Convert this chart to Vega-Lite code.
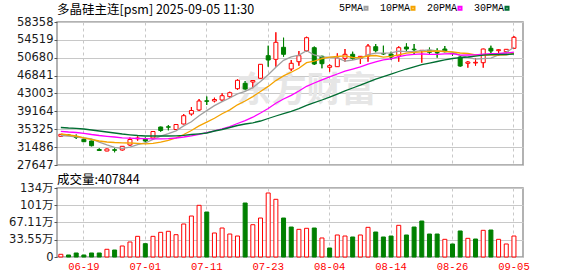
{
  "$schema": "https://vega.github.io/schema/vega-lite/v6.json",
  "background": "white",
  "autosize": {"type": "pad"},
  "padding": {"left": 0, "top": 2, "right": 4, "bottom": 0},
  "config": {
    "view": {"stroke": "#999999", "strokeWidth": 1.5},
    "axis": {"labelFont": "DejaVu Sans, Noto Sans CJK SC", "labelFontSize": 11.5, "labelColor": "#1a1a1a"},
    "axisY": {"labelOverlap": false, "labelFlush": false, "tickSize": 3, "tickColor": "#555555", "labelPadding": 1, "domain": false, "grid": true, "gridColor": "#c8c8c8", "minExtent": 56, "maxExtent": 56},
    "concat": {"spacing": 0}
  },
  "datasets": {
    "k": [
      {"d":"06-16","o":33810,"h":34304,"l":33767,"c":34240,"v":52500,"m5":33982,"m10":34304,"m20":34884,"m30":35700},
      {"d":"06-17","o":34089,"h":34197,"l":33918,"c":34046,"v":39000,"m5":33875,"m10":34089,"m20":34734,"m30":35593},
      {"d":"06-18","o":33767,"h":34197,"l":33230,"c":33553,"v":78000,"m5":33703,"m10":33875,"m20":34626,"m30":35528},
      {"d":"06-19","o":33166,"h":33338,"l":32586,"c":32650,"v":39000,"m5":33445,"m10":33488,"m20":34455,"m30":35378},
      {"d":"06-20","o":32801,"h":32865,"l":31663,"c":31791,"v":78000,"m5":33252,"m10":33123,"m20":34197,"m30":35163},
      {"d":"06-23","o":30975,"h":31233,"l":30653,"c":30761,"v":78000,"m5":32565,"m10":32801,"m20":33982,"m30":34948},
      {"d":"06-24","o":30653,"h":31190,"l":30610,"c":31083,"v":150000,"m5":31963,"m10":32586,"m20":33810,"m30":34734},
      {"d":"06-25","o":30932,"h":31233,"l":30374,"c":30804,"v":136000,"m5":31426,"m10":32479,"m20":33660,"m30":34519},
      {"d":"06-26","o":30868,"h":31727,"l":30761,"c":31663,"v":214000,"m5":31212,"m10":32414,"m20":33488,"m30":34304},
      {"d":"06-27","o":31942,"h":33553,"l":31727,"c":33123,"v":292000,"m5":31491,"m10":32371,"m20":33402,"m30":34133},
      {"d":"06-30","o":33273,"h":33810,"l":32865,"c":33445,"v":402000,"m5":32028,"m10":32285,"m20":33338,"m30":33982},
      {"d":"07-01","o":33230,"h":33553,"l":32522,"c":32801,"v":259000,"m5":32371,"m10":32167,"m20":33295,"m30":33875},
      {"d":"07-02","o":33445,"h":34948,"l":33381,"c":34841,"v":402000,"m5":33166,"m10":32296,"m20":33273,"m30":33875},
      {"d":"07-03","o":35807,"h":35872,"l":34798,"c":35056,"v":480000,"m5":33853,"m10":32543,"m20":33273,"m30":33875},
      {"d":"07-04","o":35850,"h":36237,"l":35099,"c":35765,"v":500000,"m5":34390,"m10":32930,"m20":33295,"m30":33875},
      {"d":"07-07","o":35271,"h":36387,"l":35163,"c":36344,"v":434000,"m5":34970,"m10":33488,"m20":33445,"m30":33918},
      {"d":"07-08","o":36452,"h":38599,"l":36387,"c":38234,"v":642000,"m5":36044,"m10":34197,"m20":33660,"m30":34025},
      {"d":"07-09","o":38599,"h":40103,"l":38277,"c":39351,"v":797000,"m5":36946,"m10":35056,"m20":33918,"m30":34197},
      {"d":"07-10","o":39458,"h":41821,"l":39244,"c":41391,"v":1005000,"m5":38213,"m10":36044,"m20":34240,"m30":34347},
      {"d":"07-11","o":41434,"h":42358,"l":40532,"c":41327,"v":875000,"m5":39330,"m10":36860,"m20":34605,"m30":34519},
      {"d":"07-14","o":41391,"h":42100,"l":41112,"c":41713,"v":467000,"m5":40403,"m10":37676,"m20":34991,"m30":34948},
      {"d":"07-15","o":41606,"h":43045,"l":41241,"c":42530,"v":564000,"m5":41262,"m10":38664,"m20":35421,"m30":35271},
      {"d":"07-16","o":42315,"h":43389,"l":42100,"c":43174,"v":447000,"m5":42036,"m10":39480,"m20":35893,"m30":35700},
      {"d":"07-17","o":44033,"h":46052,"l":43754,"c":45837,"v":408000,"m5":42916,"m10":40575,"m20":36559,"m30":36130},
      {"d":"07-18","o":45193,"h":45686,"l":43689,"c":43968,"v":1050000,"m5":43453,"m10":41391,"m20":37161,"m30":36452},
      {"d":"07-21","o":45472,"h":45901,"l":44119,"c":45794,"v":628000,"m5":44269,"m10":42336,"m20":37912,"m30":36710},
      {"d":"07-22","o":46266,"h":49337,"l":46223,"c":49273,"v":758000,"m5":45601,"m10":43431,"m20":38814,"m30":37096},
      {"d":"07-23","o":51120,"h":53268,"l":48758,"c":50196,"v":1245000,"m5":47018,"m10":44527,"m20":39780,"m30":37633},
      {"d":"07-24","o":50347,"h":56145,"l":48758,"c":53998,"v":1122000,"m5":48650,"m10":45772,"m20":40897,"m30":38170},
      {"d":"07-25","o":52924,"h":54986,"l":50905,"c":51421,"v":758000,"m5":50132,"m10":46782,"m20":41821,"m30":38664},
      {"d":"07-28","o":48264,"h":50196,"l":47834,"c":49488,"v":583000,"m5":50884,"m10":47576,"m20":42615,"m30":39179},
      {"d":"07-29","o":49831,"h":52129,"l":48972,"c":51120,"v":538000,"m5":51249,"m10":48435,"m20":43539,"m30":39759},
      {"d":"07-30","o":52194,"h":55200,"l":51979,"c":54986,"v":558000,"m5":52194,"m10":49617,"m20":44548,"m30":40468},
      {"d":"07-31","o":52838,"h":53096,"l":49123,"c":49337,"v":564000,"m5":51270,"m10":49960,"m20":45257,"m30":41026},
      {"d":"08-01","o":50991,"h":51120,"l":48414,"c":49402,"v":370000,"m5":50862,"m10":50497,"m20":45944,"m30":41606},
      {"d":"08-04","o":48629,"h":49273,"l":47684,"c":48972,"v":175000,"m5":50755,"m10":50819,"m20":46567,"m30":42207},
      {"d":"08-05","o":48758,"h":51635,"l":48715,"c":50626,"v":428000,"m5":50669,"m10":50948,"m20":47190,"m30":42873},
      {"d":"08-06","o":50562,"h":52559,"l":49831,"c":51421,"v":408000,"m5":49960,"m10":51077,"m20":47791,"m30":43560},
      {"d":"08-07","o":51421,"h":51979,"l":50261,"c":50562,"v":389000,"m5":50196,"m10":50733,"m20":48264,"m30":44183},
      {"d":"08-08","o":50562,"h":51055,"l":49337,"c":50991,"v":428000,"m5":50519,"m10":50690,"m20":48736,"m30":44784},
      {"d":"08-11","o":51055,"h":53633,"l":49831,"c":53203,"v":577000,"m5":51356,"m10":51055,"m20":49316,"m30":45429},
      {"d":"08-12","o":53053,"h":53633,"l":51850,"c":52194,"v":486000,"m5":51678,"m10":51163,"m20":49788,"m30":46073},
      {"d":"08-13","o":51592,"h":53268,"l":51270,"c":51485,"v":389000,"m5":51678,"m10":50819,"m20":50218,"m30":46631},
      {"d":"08-14","o":51485,"h":51979,"l":50196,"c":50841,"v":408000,"m5":51743,"m10":50970,"m20":50454,"m30":47168},
      {"d":"08-15","o":51055,"h":53139,"l":49831,"c":52838,"v":616000,"m5":52108,"m10":51313,"m20":50905,"m30":47727},
      {"d":"08-18","o":52988,"h":53783,"l":51915,"c":52559,"v":428000,"m5":51979,"m10":51678,"m20":51249,"m30":48264},
      {"d":"08-19","o":52516,"h":53633,"l":51421,"c":52408,"v":583000,"m5":52022,"m10":51850,"m20":51399,"m30":48736},
      {"d":"08-20","o":52194,"h":52344,"l":49617,"c":52280,"v":700000,"m5":52194,"m10":51936,"m20":51506,"m30":49187},
      {"d":"08-21","o":52280,"h":52881,"l":51378,"c":51850,"v":447000,"m5":52387,"m10":52065,"m20":51399,"m30":49531},
      {"d":"08-22","o":51807,"h":52709,"l":50690,"c":51700,"v":447000,"m5":52151,"m10":52129,"m20":51421,"m30":49874},
      {"d":"08-25","o":52559,"h":53203,"l":51850,"c":51979,"v":344000,"m5":52043,"m10":52022,"m20":51528,"m30":50218},
      {"d":"08-26","o":51635,"h":51850,"l":51055,"c":51549,"v":253000,"m5":51871,"m10":51957,"m20":51549,"m30":50519},
      {"d":"08-27","o":50841,"h":51055,"l":48758,"c":48908,"v":506000,"m5":51206,"m10":51700,"m20":51249,"m30":50712},
      {"d":"08-28","o":49488,"h":49982,"l":48543,"c":49767,"v":363000,"m5":50776,"m10":51592,"m20":51270,"m30":50841},
      {"d":"08-29","o":49552,"h":50562,"l":48972,"c":49702,"v":350000,"m5":50390,"m10":51270,"m20":51292,"m30":51034},
      {"d":"09-01","o":49617,"h":52623,"l":48543,"c":52559,"v":519000,"m5":50497,"m10":51270,"m20":51464,"m30":51249},
      {"d":"09-02","o":52709,"h":53268,"l":51270,"c":52129,"v":525000,"m5":50604,"m10":51249,"m20":51549,"m30":51356},
      {"d":"09-03","o":52194,"h":52559,"l":51055,"c":52408,"v":344000,"m5":51313,"m10":51249,"m20":51592,"m30":51421},
      {"d":"09-04","o":51979,"h":52559,"l":51635,"c":52494,"v":253000,"m5":51850,"m10":51313,"m20":51700,"m30":51378},
      {"d":"09-05","o":52709,"h":55351,"l":52559,"c":55071,"v":407844,"m5":52924,"m10":51657,"m20":51893,"m30":51485}
    ]
  },
  "vconcat": [
    {
      "width": 466,
      "height": 143,
      "title": {"text": "多晶硅主连[psm] 2025-09-05 11:30", "anchor": "start", "frame": "group", "font": "Noto Sans CJK SC", "fontSize": 12.5, "fontWeight": "normal", "color": "#000000", "offset": 0},
      "data": {"name": "k"},
      "resolve": {"axis": {"y": "independent"}},
      "encoding": {
        "x": {
          "field": "d", "type": "ordinal", "sort": null, "title": null,
          "scale": {"type": "band", "paddingInner": 0, "paddingOuter": 0.34, "align": 0},
          "axis": {"labels": false, "ticks": false, "domain": false, "grid": true, "gridColor": "#c8c8c8", "gridDash": [3, 3], "bandPosition": 0.5, "minExtent": 0, "maxExtent": 0,
                   "values": ["06-19", "07-01", "07-11", "07-23", "08-04", "08-14", "08-26", "09-05"]}
        }
      },
      "layer": [
        {
          "mark": {"type": "rule", "strokeWidth": 1},
          "encoding": {
            "y": {"field": "l", "type": "quantitative", "title": null,
                  "scale": {"domain": [27647, 58358], "nice": false, "zero": false},
                  "axis": {"values": [27647, 31486, 35325, 39164, 43003, 46841, 50680, 54519, 58358], "format": "d", "labelOverlap": false}},
            "y2": {"field": "h"},
            "stroke": {"condition": {"test": "datum.c >= datum.o", "value": "#ff0000"}, "value": "#008000"}
          }
        },
        {
          "transform": [{"filter": "datum.d == '07-30'"}],
          "mark": {"type": "text", "font": "Noto Sans CJK SC", "fontSize": 35, "fontWeight": "bold", "color": "#e6e6e6", "baseline": "middle", "align": "center", "dy": 5},
          "encoding": {
            "y": {"field": "m20", "type": "quantitative", "title": null, "axis": null},
            "text": {"value": "东方财富"}
          }
        },
        {
          "mark": {"type": "rule", "strokeWidth": 1},
          "encoding": {
            "y": {"field": "l", "type": "quantitative", "title": null, "axis": null},
            "y2": {"field": "h"},
            "stroke": {"condition": {"test": "datum.c >= datum.o", "value": "#ff0000"}, "value": "#008000"}
          }
        },
        {
          "mark": {"type": "bar", "size": 4, "strokeWidth": 1},
          "encoding": {
            "y": {"field": "o", "type": "quantitative", "title": null, "axis": null},
            "y2": {"field": "c"},
            "fill": {"condition": {"test": "datum.c >= datum.o", "value": "#ffffff"}, "value": "#008000"},
            "stroke": {"condition": {"test": "datum.c >= datum.o", "value": "#ff0000"}, "value": "#008000"}
          }
        },
        {
          "transform": [{"fold": ["m5", "m10", "m20", "m30"], "as": ["k", "val"]}],
          "mark": {"type": "line", "strokeWidth": 1.3},
          "encoding": {
            "y": {"field": "val", "type": "quantitative", "title": null, "axis": null},
            "color": {
              "field": "k", "type": "nominal",
              "scale": {"domain": ["m5", "m10", "m20", "m30"], "range": ["#a0a0a0", "#f5a300", "#ff00ff", "#006e32"]},
              "legend": {"title": null, "orient": "none", "legendX": 304, "legendY": -19, "direction": "horizontal",
                         "labelFont": "Liberation Mono", "labelFontSize": 10, "labelColor": "#000000",
                         "symbolType": "square", "symbolSize": 9, "symbolStrokeWidth": 2,
                         "labelAlign": "right", "labelOffset": -8, "columnPadding": 7,
                         "labelExpr": "{'m5':'5PMA','m10':'10PMA','m20':'20PMA','m30':'30PMA'}[datum.label]"}
            }
          }
        }
      ]
    },
    {
      "width": 466,
      "height": 69,
      "title": {"text": "成交量:407844", "anchor": "start", "frame": "group", "font": "Noto Sans CJK SC", "fontSize": 12.5, "fontWeight": "normal", "color": "#000000", "offset": -4},
      "data": {"name": "k"},
      "transform": [{"window": [{"op": "lag", "field": "c", "as": "pc"}]}],
      "mark": {"type": "bar", "size": 4, "strokeWidth": 1},
      "encoding": {
        "x": {
          "field": "d", "type": "ordinal", "sort": null, "title": null,
          "scale": {"type": "band", "paddingInner": 0, "paddingOuter": 0.34, "align": 0},
          "axis": {"ticks": false, "domain": false, "grid": true, "gridColor": "#c8c8c8", "gridDash": [3, 3], "bandPosition": 0.5,
                   "labelColor": "#ff0000", "labelFont": "Liberation Mono", "labelFontSize": 10.5, "labelAngle": 0, "labelPadding": 4,
                   "values": ["06-19", "07-01", "07-11", "07-23", "08-04", "08-14", "08-26", "09-05"]}
        },
        "y": {
          "field": "v", "type": "quantitative", "title": null,
          "scale": {"domain": [0, 1342000], "nice": false},
          "axis": {"values": [0, 335500, 671100, 1006600, 1342000],
                   "labelExpr": "datum.value == 0 ? '0' : datum.value == 335500 ? '33.55万' : datum.value == 671100 ? '67.11万' : datum.value == 1006600 ? '101万' : '134万'"}
        },
        "fill": {"condition": {"test": "datum.pc == null || datum.c >= datum.pc", "value": "#ffffff"}, "value": "#008000"},
        "stroke": {"condition": {"test": "datum.pc == null || datum.c >= datum.pc", "value": "#ff0000"}, "value": "#008000"}
      }
    }
  ]
}
